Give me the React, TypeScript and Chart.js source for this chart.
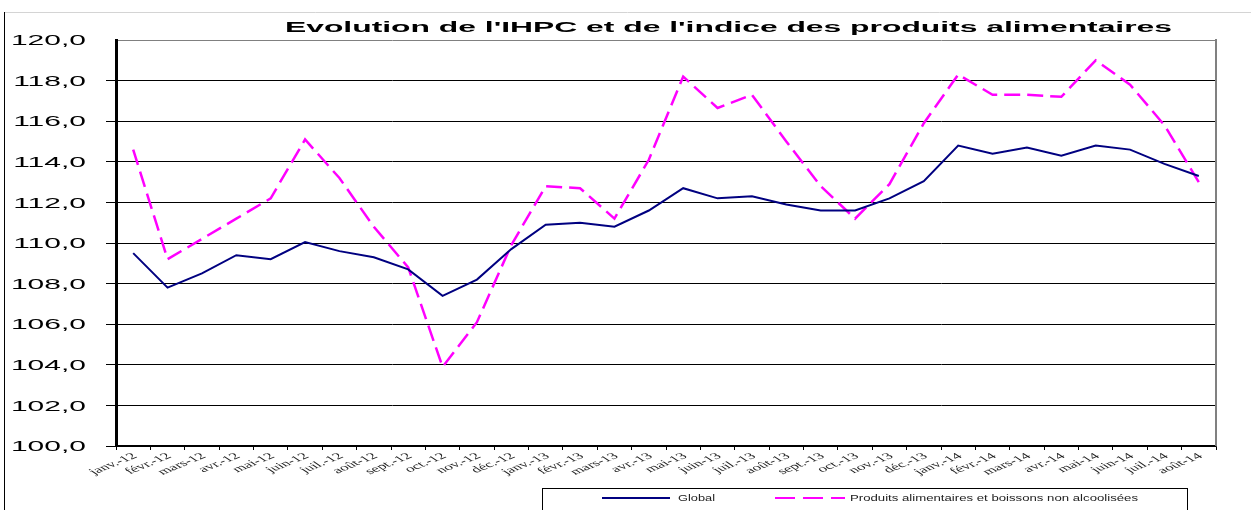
import React, { useEffect, useRef } from 'react';
import { Chart, registerables } from 'chart.js';

Chart.register(...registerables);

const TITLE = "Evolution de l'IHPC et de l'indice des produits alimentaires";

const months: string[] = [
  'janv.-12', 'févr.-12', 'mars-12', 'avr.-12', 'mai-12', 'juin-12', 'juil.-12', 'août-12',
  'sept.-12', 'oct.-12', 'nov.-12', 'déc.-12',
  'janv.-13', 'févr.-13', 'mars-13', 'avr.-13', 'mai-13', 'juin-13', 'juil.-13', 'août-13',
  'sept.-13', 'oct.-13', 'nov.-13', 'déc.-13',
  'janv.-14', 'févr.-14', 'mars-14', 'avr.-14', 'mai-14', 'juin-14', 'juil.-14', 'août-14',
];

const globalLabel = 'Global';
const globalValues: number[] = [
  109.5, 107.8, 108.5, 109.4, 109.2, 110.05, 109.6, 109.3, 108.7, 107.4, 108.2, 109.7,
  110.9, 111.0, 110.8, 111.6, 112.7, 112.2, 112.3, 111.9, 111.6, 111.6, 112.2, 113.05,
  114.8, 114.4, 114.7, 114.3, 114.8, 114.6, 113.9, 113.3,
];

const foodLabel = 'Produits alimentaires et boissons non alcoolisées';
const foodValues: number[] = [
  114.6, 109.2, 110.2, 111.2, 112.2, 115.1, 113.2, 110.8, 108.8, 103.9, 106.1, 109.9,
  112.8, 112.7, 111.2, 114.1, 118.2, 116.65, 117.3, 115.0, 112.8, 111.2, 112.9, 115.9,
  118.3, 117.3, 117.3, 117.2, 119.0, 117.8, 115.8, 113.0,
];

const yMin = 100;
const yMax = 120;
const yStep = 2;

const SANS = "'Liberation Sans', Arial, sans-serif";
const SERIF = "'Liberation Serif', 'Times New Roman', serif";

function fillTextFit(ctx: CanvasRenderingContext2D, text: string, x: number, y: number, width: number) {
  const w = ctx.measureText(text).width;
  ctx.save();
  ctx.translate(x, y);
  ctx.scale(width / w, 1);
  ctx.textAlign = 'left';
  ctx.fillText(text, 0, 0);
  ctx.restore();
}

const decorPlugin = {
  id: 'decor',
  afterDraw(chart: any) {
    const ctx: CanvasRenderingContext2D = chart.ctx;
    const area = chart.chartArea;
    const xs = chart.scales.x;
    const ys = chart.scales.y;
    ctx.save();

    // outer frame
    ctx.strokeStyle = '#d4d4d4';
    ctx.lineWidth = 1;
    ctx.beginPath();
    ctx.moveTo(4, 12.5);
    ctx.lineTo(1251, 12.5);
    ctx.stroke();
    ctx.strokeStyle = '#000';
    ctx.beginPath();
    ctx.moveTo(4.5, 12);
    ctx.lineTo(4.5, 510);
    ctx.stroke();

    // plot right border
    ctx.strokeStyle = '#808080';
    ctx.lineWidth = 2;
    ctx.beginPath();
    ctx.moveTo(area.right, area.top - 1);
    ctx.lineTo(area.right, area.bottom);
    ctx.stroke();

    // title
    ctx.fillStyle = '#000';
    ctx.font = `bold 14px ${SANS}`;
    ctx.textBaseline = 'alphabetic';
    fillTextFit(ctx, TITLE, 285, 32, 887);

    // y tick labels (stretched horizontally)
    ctx.font = `15px ${SANS}`;
    ctx.textBaseline = 'middle';
    ys.ticks.forEach((t: any) => {
      const y = ys.getPixelForValue(t.value);
      const txt = Number(t.value).toFixed(1).replace('.', ',');
      ctx.save();
      ctx.translate(86, y + 1);
      ctx.scale(2.0, 1);
      ctx.textAlign = 'right';
      ctx.fillText(txt, 0, 0);
      ctx.restore();
    });

    // x tick labels (rotated + stretched)
    ctx.font = `9px ${SERIF}`;
    ctx.fillStyle = '#222';
    ctx.textBaseline = 'middle';
    xs.ticks.forEach((t: any, i: number) => {
      const x = xs.getPixelForTick(i);
      const txt = months[i];
      ctx.save();
      ctx.translate(x + 2, 455);
      ctx.scale(1.9, 1);
      ctx.rotate(-38 * Math.PI / 180);
      ctx.textAlign = 'right';
      ctx.fillText(txt, 0, 0);
      ctx.restore();
    });

    // legend
    ctx.strokeStyle = '#000';
    ctx.lineWidth = 1;
    ctx.strokeRect(542.5, 488.5, 645, 40);
    const ly = 498;
    ctx.strokeStyle = '#000080';
    ctx.lineWidth = 2;
    ctx.beginPath();
    ctx.moveTo(602, ly);
    ctx.lineTo(670, ly);
    ctx.stroke();
    ctx.strokeStyle = '#FF00FF';
    ctx.setLineDash([20, 8]);
    ctx.beginPath();
    ctx.moveTo(775, ly);
    ctx.lineTo(845, ly);
    ctx.stroke();
    ctx.setLineDash([]);
    ctx.fillStyle = '#222';
    ctx.font = `9px ${SANS}`;
    ctx.textBaseline = 'middle';
    fillTextFit(ctx, globalLabel, 678, ly + 1, 37);
    fillTextFit(ctx, foodLabel, 850, ly + 1, 288);

    ctx.restore();
  },
};

export default function App() {
  const ref = useRef<HTMLCanvasElement | null>(null);

  useEffect(() => {
    if (!ref.current) return;
    const chart = new Chart(ref.current, {
      type: 'line',
      data: {
        labels: months,
        datasets: [
          {
            label: globalLabel,
            data: globalValues,
            borderColor: '#000080',
            backgroundColor: '#000080',
            borderWidth: 2,
            pointRadius: 0,
            tension: 0,
            fill: false,
          },
          {
            label: foodLabel,
            data: foodValues,
            borderColor: '#FF00FF',
            backgroundColor: '#FF00FF',
            borderWidth: 2.5,
            borderDash: [16, 7],
            pointRadius: 0,
            tension: 0,
            fill: false,
          },
        ],
      },
      options: {
        animation: false,
        responsive: false,
        maintainAspectRatio: false,
        devicePixelRatio: 1,
        layout: {
          autoPadding: false,
          padding: { left: 0, top: 40, right: 35, bottom: 0 },
        },
        plugins: {
          legend: { display: false },
          title: { display: false },
          tooltip: { enabled: false },
        },
        scales: {
          x: {
            type: 'category',
            offset: true,
            grid: {
              display: true,
              offset: true,
              drawOnChartArea: false,
              drawTicks: true,
              tickLength: 4,
              tickColor: '#000',
              tickWidth: 1,
            },
            border: { display: true, color: '#000', width: 1.5 },
            ticks: { display: false, autoSkip: false },
            afterFit: (s: any) => { s.height = 64; },
          },
          y: {
            min: yMin,
            max: yMax,
            ticks: { display: false, stepSize: yStep },
            grid: {
              display: true,
              color: (c: any) => (c.tick && c.tick.value === yMax ? '#808080' : '#000'),
              lineWidth: 1,
              drawTicks: true,
              tickLength: 10,
              tickColor: (c: any) => (c.tick && c.tick.value === yMax ? 'rgba(0,0,0,0)' : '#000'),
            },
            border: { display: true, color: '#000', width: 3 },
            afterFit: (s: any) => { s.width = 116; },
          },
        },
      },
      plugins: [decorPlugin],
    } as any);
    return () => chart.destroy();
  }, []);

  return (
    <div style={{ position: 'fixed', left: 0, top: 0, width: 1251, height: 510, background: '#fff' }}>
      <canvas ref={ref} width={1251} height={510} style={{ display: 'block' }} />
    </div>
  );
}
